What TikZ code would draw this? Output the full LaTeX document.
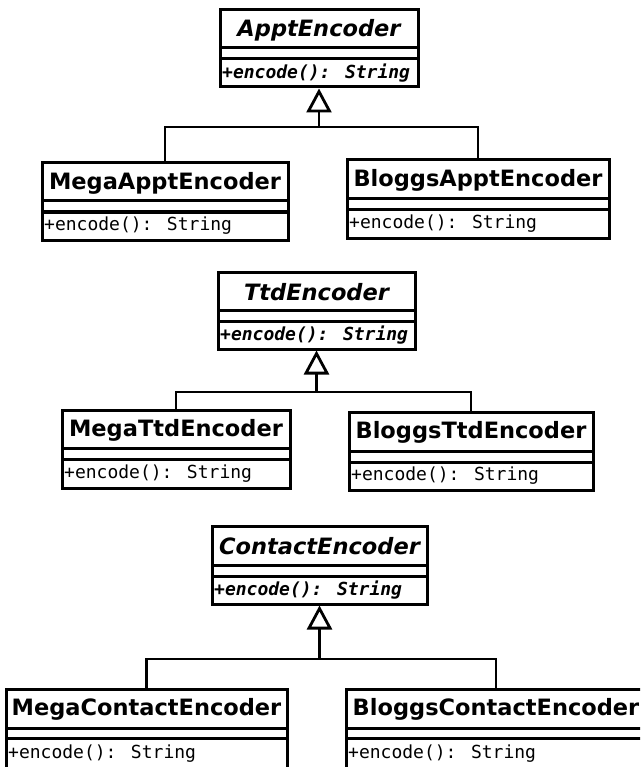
\documentclass[tikz,border=0pt]{standalone}
\usepackage{fontspec}
\newfontfamily\clsfont{DejaVu Sans}
\newfontfamily\methfont{DejaVu Sans Mono}
\usetikzlibrary{arrows.meta}
\tikzset{
  cls/.style={draw, line width=3pt, fill=white, inner sep=0pt},
  sep/.style={line width=3pt},
  ttl/.style={font=\clsfont\bfseries\fontsize{22.5}{24}\selectfont, inner sep=0pt},
  mth/.style={font=\methfont\fontsize{18}{20}\selectfont, inner sep=0pt, anchor=west},
  conn/.style={line width=2.8pt},
  inh/.style={conn, -{Triangle[open, length=24pt, width=25pt, line width=2.8pt]}}
}
% #1 id, #2 x1, #3 x2, #4 ytop, #5 yname, #6 yattr, #7 ybot, #8 title, #9 method
\newcommand\umlclass[9]{%
  \node[cls, minimum width={(#3-#2)*1pt}, minimum height={(#7-#4)*1pt}] (#1) at ({(#2+#3)/2},{(#4+#7)/2}) {};
  \draw[sep] ({#2},{#5}) -- ({#3},{#5});
  \draw[sep] ({#2},{#6}) -- ({#3},{#6});
  \node[ttl] (#1-n) at ({(#2+#3)/2},{(#4+#5)/2+1}) {#8};
  \node[mth] (#1-m) at ({#2+2},{(#6+#7)/2}) {#9};
}
\begin{document}
\begin{tikzpicture}[x=1pt, y=-1pt]
\useasboundingbox (0,0) rectangle (640,767);
\fill[white] (0,0) rectangle (640,767);
\clip (0,0) rectangle (640,767);

% ---- Appt group
\umlclass{appt}{220}{418}{10}{48}{59}{87}{\itshape ApptEncoder}{\bfseries\itshape +encode(): String}
\umlclass{megaappt}{42}{288}{163}{201}{212}{240}{MegaApptEncoder}{+encode(): String}
\umlclass{bloggsappt}{347}{609}{160}{199}{210}{238}{BloggsApptEncoder}{+encode(): String}
\coordinate (jappt) at (319,127);
\draw[inh] (megaappt.north) |- (jappt) -- (appt.south);
\draw[conn] (bloggsappt.north) |- (jappt);

% ---- Ttd group
\umlclass{ttd}{218}{415}{272}{310}{321}{349}{\itshape TtdEncoder}{\bfseries\itshape +encode(): String}
\umlclass{megattd}{62}{290}{410}{448}{459}{488}{MegaTtdEncoder}{+encode(): String}
\umlclass{bloggsttd}{349}{593}{412}{451}{462}{490}{BloggsTtdEncoder}{+encode(): String}
\coordinate (jttd) at (316.5,392);
\draw[inh] (megattd.north) |- (jttd) -- (ttd.south);
\draw[conn] (bloggsttd.north) |- (jttd);

% ---- Contact group
\umlclass{contact}{212}{427}{526}{565}{576}{604}{\itshape ContactEncoder}{\bfseries\itshape +encode(): String}
\umlclass{megacontact}{6}{287}{689}{728}{738}{769}{MegaContactEncoder}{+encode(): String}
\umlclass{bloggscontact}{346}{646}{689}{728}{738}{769}{BloggsContactEncoder}{+encode(): String}
\coordinate (jcontact) at (319.5,659);
\draw[inh] (megacontact.north) |- (jcontact) -- (contact.south);
\draw[conn] (bloggscontact.north) |- (jcontact);
\end{tikzpicture}
\end{document}
